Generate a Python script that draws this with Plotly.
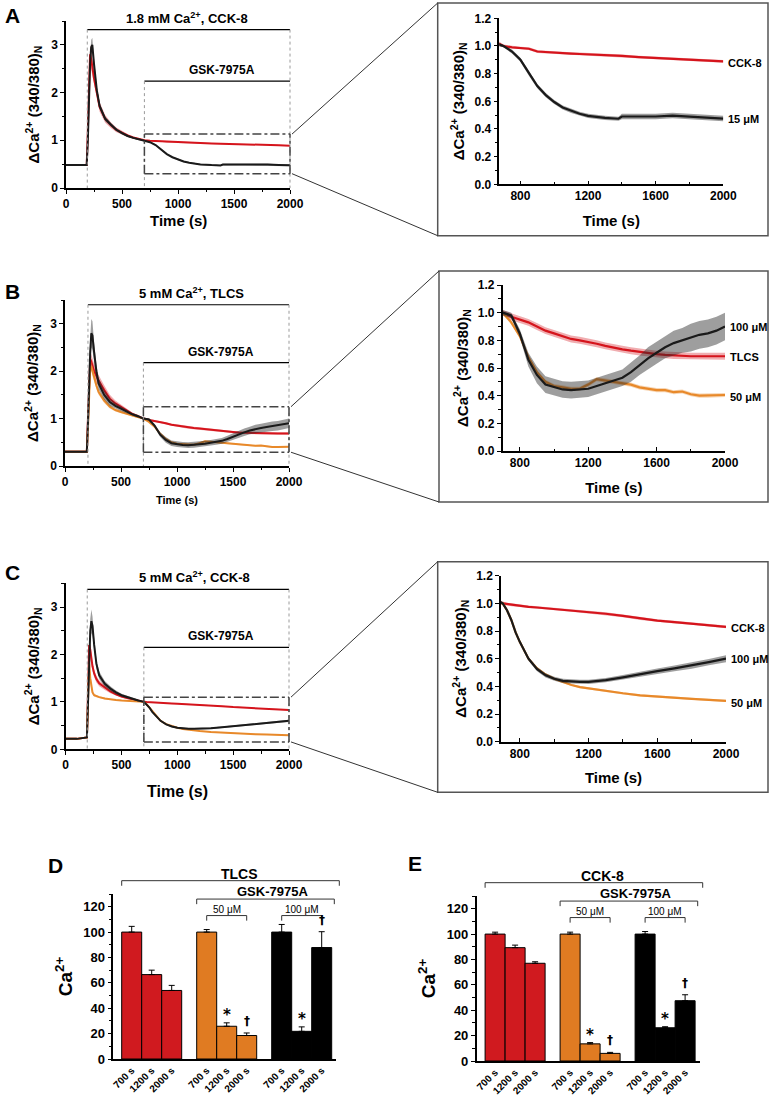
import plotly.graph_objects as go

W, H = 770, 1097
FONT = "Liberation Sans, Arial, sans-serif"
RED, ORANGE, BLACK = "#d5141c", "#e8892a", "#1a1a1a"
RED_BAND, ORANGE_BAND, BLACK_BAND = "rgba(213,20,28,0.35)", "rgba(232,137,42,0.35)", "rgba(40,40,40,0.45)"

# --------------------------
# time courses (normalised 340/380 ratio)
# --------------------------
t_A = [0, 100, 185, 195, 205, 215, 225, 235, 250, 275, 300, 350, 400, 450, 500, 550, 600, 650, 700, 750,
       800, 850, 900, 950, 1000, 1050, 1100, 1150, 1200, 1300, 1380, 1400, 1500, 1600, 1700, 1800, 1900, 2000]
a_cck = [0.48, 0.48, 0.48, 1.2, 2.3, 2.8, 2.7, 2.5, 2.3, 2.0, 1.7, 1.45, 1.32, 1.22, 1.16, 1.1, 1.06, 1.03, 1.0, 0.99,
         0.985, 0.98, 0.96, 0.955, 0.95, 0.948, 0.945, 0.942, 0.94, 0.935, 0.93, 0.928, 0.92, 0.913, 0.907, 0.9, 0.895, 0.888]
a_cck_err = [0.02, 0.02, 0.02, 0.1, 0.2, 0.2, 0.2, 0.18, 0.15, 0.12, 0.1, 0.08, 0.06, 0.05, 0.04, 0.03, 0.02, 0.02, 0.01, 0.01,
             0.01, 0.01, 0.01, 0.01, 0.01, 0.01, 0.01, 0.01, 0.01, 0.01, 0.01, 0.01, 0.01, 0.01, 0.01, 0.01, 0.01, 0.01]
a_15 = [0.48, 0.48, 0.48, 1.0, 2.0, 2.6, 2.95, 3.0, 2.6, 2.05, 1.72, 1.45, 1.33, 1.22, 1.15, 1.09, 1.05, 1.02, 1.0, 0.96,
        0.9, 0.8, 0.71, 0.645, 0.595, 0.555, 0.53, 0.51, 0.495, 0.48, 0.474, 0.49, 0.49, 0.49, 0.497, 0.49, 0.48, 0.475]
a_15_err = [0.02, 0.02, 0.02, 0.1, 0.15, 0.15, 0.15, 0.15, 0.12, 0.08, 0.06, 0.05, 0.04, 0.03, 0.03, 0.02, 0.02, 0.02, 0.01, 0.015,
            0.015, 0.015, 0.015, 0.015, 0.015, 0.015, 0.015, 0.015, 0.015, 0.015, 0.015, 0.02, 0.02, 0.02, 0.02, 0.02, 0.02, 0.02]

t_B = [0, 100, 195, 205, 215, 225, 235, 245, 260, 280, 300, 350, 400, 450, 500, 550, 600, 650, 700, 750,
       800, 850, 900, 950, 1000, 1050, 1100, 1150, 1200, 1250, 1300, 1350, 1400, 1450, 1500, 1550, 1600, 1650, 1700, 1750,
       1800, 1850, 1900, 1950, 2000]
b_tlcs = [0.3, 0.3, 0.3, 1.0, 1.9, 2.25, 2.2, 2.1, 2.0, 1.9, 1.8, 1.6, 1.42, 1.32, 1.25, 1.18, 1.1, 1.05, 1.0, 0.97,
          0.95, 0.93, 0.9, 0.87, 0.85, 0.83, 0.81, 0.8, 0.79, 0.775, 0.76, 0.745, 0.735, 0.725, 0.715, 0.705, 0.7, 0.695, 0.69, 0.685,
          0.685, 0.685, 0.685, 0.685, 0.685]
b_tlcs_err = [0.02, 0.02, 0.02, 0.1, 0.15, 0.15, 0.15, 0.15, 0.15, 0.15, 0.12, 0.1, 0.08, 0.06, 0.05, 0.04, 0.03, 0.03, 0.02, 0.025,
              0.025, 0.025, 0.025, 0.025, 0.025, 0.025, 0.025, 0.025, 0.025, 0.025, 0.025, 0.025, 0.025, 0.025, 0.025, 0.025, 0.025, 0.025, 0.025, 0.025,
              0.025, 0.025, 0.025, 0.025, 0.025]
b_50 = [0.3, 0.3, 0.3, 0.8, 1.6, 2.05, 2.1, 2.0, 1.85, 1.7, 1.56, 1.38, 1.25, 1.18, 1.14, 1.1, 1.06, 1.03, 1.0, 0.93,
        0.83, 0.68, 0.57, 0.5, 0.47, 0.46, 0.45, 0.45, 0.48, 0.52, 0.51, 0.5, 0.49, 0.48, 0.46, 0.45, 0.44, 0.44, 0.425, 0.43,
        0.41, 0.4, 0.4, 0.4, 0.405]
b_50_err = [0.02, 0.02, 0.02, 0.08, 0.1, 0.1, 0.1, 0.1, 0.08, 0.07, 0.06, 0.05, 0.04, 0.03, 0.03, 0.02, 0.02, 0.02, 0.015, 0.015,
            0.015, 0.015, 0.015, 0.015, 0.015, 0.015, 0.015, 0.015, 0.015, 0.015, 0.015, 0.015, 0.015, 0.015, 0.015, 0.015, 0.015, 0.015, 0.015, 0.015,
            0.015, 0.015, 0.015, 0.015, 0.015]
b_100 = [0.3, 0.3, 0.3, 0.9, 1.8, 2.4, 2.8, 2.75, 2.4, 2.0, 1.74, 1.5, 1.35, 1.27, 1.21, 1.15, 1.09, 1.05, 1.0, 0.98,
         0.85, 0.66, 0.55, 0.48, 0.46, 0.445, 0.44, 0.445, 0.45, 0.47, 0.49, 0.51, 0.53, 0.57, 0.62, 0.67, 0.71, 0.75, 0.78, 0.8,
         0.82, 0.84, 0.85, 0.87, 0.9]
b_100_err = [0.02, 0.02, 0.02, 0.15, 0.25, 0.3, 0.3, 0.3, 0.2, 0.15, 0.12, 0.1, 0.08, 0.06, 0.05, 0.04, 0.03, 0.03, 0.02, 0.02,
             0.03, 0.05, 0.06, 0.06, 0.06, 0.06, 0.06, 0.06, 0.06, 0.06, 0.06, 0.06, 0.06, 0.07, 0.07, 0.08, 0.08, 0.08, 0.09, 0.09,
             0.1, 0.1, 0.1, 0.1, 0.1]

t_C = [0, 100, 190, 200, 210, 220, 230, 240, 255, 275, 300, 350, 400, 450, 500, 550, 600, 650, 700, 725,
       750, 775, 800, 850, 900, 950, 1000, 1050, 1100, 1150, 1200, 1300, 1400, 1500, 1600, 1700, 1800, 1900, 2000]
c_cck = [0.22, 0.22, 0.25, 1.2, 2.2, 2.1, 1.9, 1.75, 1.6, 1.48, 1.39, 1.3, 1.22, 1.16, 1.11, 1.08, 1.05, 1.02, 1.0, 0.995,
         0.99, 0.985, 0.98, 0.975, 0.97, 0.965, 0.96, 0.955, 0.95, 0.945, 0.94, 0.925, 0.91, 0.89, 0.875, 0.865, 0.855, 0.845, 0.83]
c_cck_err = [0.01, 0.01, 0.01, 0.1, 0.15, 0.12, 0.1, 0.1, 0.08, 0.07, 0.06, 0.05, 0.04, 0.03, 0.02, 0.02, 0.02, 0.01, 0.01, 0.01,
             0.01, 0.01, 0.01, 0.01, 0.01, 0.01, 0.01, 0.01, 0.01, 0.01, 0.01, 0.01, 0.01, 0.01, 0.01, 0.01, 0.01, 0.01, 0.01]
c_50 = [0.22, 0.22, 0.25, 1.0, 1.8, 1.5, 1.3, 1.2, 1.14, 1.12, 1.1, 1.07, 1.05, 1.04, 1.03, 1.02, 1.01, 1.005, 1.0, 0.95,
        0.88, 0.79, 0.72, 0.6, 0.53, 0.485, 0.455, 0.43, 0.41, 0.395, 0.385, 0.365, 0.35, 0.335, 0.325, 0.318, 0.31, 0.302, 0.295]
c_50_err = [0.01, 0.01, 0.01, 0.05, 0.1, 0.08, 0.05, 0.04, 0.03, 0.03, 0.02, 0.02, 0.01, 0.01, 0.01, 0.01, 0.01, 0.01, 0.008, 0.008,
            0.008, 0.008, 0.008, 0.008, 0.008, 0.008, 0.008, 0.008, 0.008, 0.008, 0.008, 0.008, 0.008, 0.008, 0.008, 0.008, 0.008, 0.008, 0.008]
c_100 = [0.22, 0.22, 0.25, 1.0, 2.0, 2.5, 2.7, 2.6, 2.2, 1.8, 1.56, 1.38, 1.28, 1.2, 1.14, 1.1, 1.06, 1.03, 1.0, 0.95,
         0.88, 0.79, 0.72, 0.6, 0.525, 0.48, 0.455, 0.44, 0.435, 0.432, 0.433, 0.445, 0.465, 0.49, 0.51, 0.53, 0.55, 0.575, 0.6]
c_100_err = [0.01, 0.01, 0.01, 0.1, 0.2, 0.25, 0.25, 0.2, 0.15, 0.1, 0.08, 0.06, 0.05, 0.04, 0.03, 0.03, 0.02, 0.02, 0.01, 0.01,
             0.012, 0.012, 0.012, 0.015, 0.015, 0.015, 0.015, 0.015, 0.015, 0.015, 0.015, 0.015, 0.018, 0.018, 0.02, 0.02, 0.022, 0.022, 0.025]

# --------------------------
# bar summaries (% of 700 s)
# --------------------------
bar_labels = ["700 s", "1200 s", "2000 s"]
d_tlcs, d_tlcs_err = [100, 66.5, 54], [4.5, 3.5, 4]
d_50, d_50_err = [100, 25.8, 18.5], [2, 2.7, 2]
d_100, d_100_err = [100, 21.8, 87.8], [6, 3.5, 12.5]
e_cck, e_cck_err = [100, 89.3, 77], [1.5, 2, 1.2]
e_50, e_50_err = [100, 13.5, 6], [1.5, 1, 0.8]
e_100, e_100_err = [100, 26.2, 47.5], [2, 0.8, 4.7]
sig = [["", "", ""], ["", "*", "†"], ["", "*", "†"]]

# panel frames in pixels: left, right, top, bottom + axis ranges
PANELS = {
    "A1": dict(l=66, r=290, t=21, b=188, xr=(0, 2000), yr=(0, 3.5)),
    "A2": dict(l=499.3, r=723.3, t=18.3, b=184.3, xr=(675, 2000), yr=(0, 1.2)),
    "B1": dict(l=65, r=289, t=300, b=466, xr=(0, 2000), yr=(0, 3.5)),
    "B2": dict(l=502.7, r=725, t=285, b=451, xr=(700, 2000), yr=(0, 1.2)),
    "C1": dict(l=65.7, r=289, t=583.3, b=749.3, xr=(0, 2000), yr=(0, 3.5)),
    "C2": dict(l=501, r=726, t=575.7, b=741.7, xr=(690, 2000), yr=(0, 1.2)),
    "D": dict(l=113.3, r=336.3, t=894, b=1059, xr=(0, 11.15), yr=(0, 130)),
    "E": dict(l=476.7, r=699.7, t=896, b=1061, xr=(0, 11.15), yr=(0, 130)),
}
ORDER = ["A1", "A2", "B1", "B2", "C1", "C2", "D", "E"]


def ax_ids(name):
    n = ORDER.index(name) + 1
    s = "" if n == 1 else str(n)
    return "x" + s, "y" + s, s


def to_paper(name, x, y):
    p = PANELS[name]
    (x0, x1), (y0, y1) = p["xr"], p["yr"]
    px = p["l"] + (x - x0) / (x1 - x0) * (p["r"] - p["l"])
    py = p["b"] - (y - y0) / (y1 - y0) * (p["b"] - p["t"])
    return px / W, 1 - py / H


def pix(px, py):
    return px / W, 1 - py / H


fig = go.Figure()
layout = {}
shapes = []
annotations = []


def add_series(name, t, v, e, color, band, width=2.0):
    xs, ys, _ = ax_ids(name)
    up = [a + b for a, b in zip(v, e)]
    lo = [a - b for a, b in zip(v, e)]
    fig.add_trace(go.Scatter(x=t + t[::-1], y=up + lo[::-1], fill="toself", fillcolor=band,
                             line=dict(width=0), mode="lines", xaxis=xs, yaxis=ys,
                             hoverinfo="skip", showlegend=False))
    fig.add_trace(go.Scatter(x=t, y=v, mode="lines", line=dict(color=color, width=width),
                             xaxis=xs, yaxis=ys, showlegend=False))


def tick_font(size=12):
    return dict(family=FONT, size=size, color="black", weight="bold")


def set_axes(name, xkw, ykw):
    xs, ys, s = ax_ids(name)
    p = PANELS[name]
    base = dict(showline=True, linecolor="black", linewidth=1.5, showgrid=False, zeroline=False,
                ticks="outside", ticklen=4, tickwidth=1.2, tickcolor="black",
                tickfont=tick_font(), automargin=False, fixedrange=True)
    layout["xaxis" + s] = {**base, "domain": [p["l"] / W, p["r"] / W], "range": list(p["xr"]),
                           "anchor": ys, **xkw}
    layout["yaxis" + s] = {**base, "domain": [1 - p["b"] / H, 1 - p["t"] / H], "range": list(p["yr"]),
                           "anchor": xs, **ykw}


def seg(name, x0, y0, x1, y1, **line):
    a = to_paper(name, x0, y0)
    b = to_paper(name, x1, y1)
    shapes.append(dict(type="line", xref="paper", yref="paper", x0=a[0], y0=a[1], x1=b[0], y1=b[1], line=line))


def note(name, x, y, text, size=12, family=FONT, **kw):
    # placed in paper space so that labels above an axis range are still drawn
    px, py = to_paper(name, x, y)
    opts = dict(xanchor="center", yanchor="middle")
    opts.update(kw)
    annotations.append(dict(x=px, y=py, xref="paper", yref="paper", text=text, showarrow=False,
                            font=dict(family=family, size=size, color="black"), **opts))


def pnote(px, py, text, size):
    x, y = pix(px, py)
    annotations.append(dict(x=x, y=y, xref="paper", yref="paper", text=text, showarrow=False,
                            xanchor="center", yanchor="middle",
                            font=dict(family=FONT, size=size, color="black")))


YTITLE = "<b>ΔCa<sup>2+</sup> (340/380)<sub>N</sub></b>"

# ---- time course panels ----
series = {
    "A": [(t_A, a_cck, a_cck_err, RED, RED_BAND), (t_A, a_15, a_15_err, BLACK, BLACK_BAND)],
    "B": [(t_B, b_tlcs, b_tlcs_err, RED, RED_BAND), (t_B, b_50, b_50_err, ORANGE, ORANGE_BAND),
          (t_B, b_100, b_100_err, BLACK, BLACK_BAND)],
    "C": [(t_C, c_cck, c_cck_err, RED, RED_BAND), (t_C, c_50, c_50_err, ORANGE, ORANGE_BAND),
          (t_C, c_100, c_100_err, BLACK, BLACK_BAND)],
}
# stimulus text, x of text, stimulus start, bracket heights, zoom box, right frame (px), time-title (px y, size)
deco = {
    "A": ("1.8 mM Ca<sup>2+</sup>, CCK-8", 1080, 190, 3.32, 2.24, (0.3, 1.13), (437.7, 3, 768, 235.7), (220, 15)),
    "B": ("5 mM Ca<sup>2+</sup>, TLCS", 1130, 205, 3.4, 2.18, (0.29, 1.25), (439, 271, 768, 502), (500, 11)),
    "C": ("5 mM Ca<sup>2+</sup>, CCK-8", 1150, 193, 3.37, 2.15, (0.155, 1.1), (437.7, 561.7, 768, 792.3), (791, 16)),
}
labels = {
    "A": [("CCK-8", 0.88), ("15 μM", 0.47)],
    "B": [("100 μM", 0.9), ("TLCS", 0.68), ("50 μM", 0.39)],
    "C": [("CCK-8", 0.82), ("100 μM", 0.6), ("50 μM", 0.28)],
}

for key in "ABC":
    left, right = key + "1", key + "2"
    for t, v, e, col, band in series[key]:
        add_series(left, t, v, e, col, band, 2.0)
        add_series(right, t, v, e, col, band, 2.2)

    text, tx, t_on, y_top, y_gsk, (b_lo, b_hi), frame, (title_y, title_size) = deco[key]
    set_axes(left,
             dict(tick0=0, dtick=500, minor=dict(dtick=250, ticks="outside", ticklen=2.5, tickcolor="black")),
             dict(tick0=0, dtick=1, minor=dict(dtick=0.5, ticks="outside", ticklen=2.5, tickcolor="black"),
                  title=dict(text=YTITLE, font=dict(family=FONT, size=15, color="black"), standoff=8)))
    p = PANELS[left]
    pnote((p["l"] + p["r"]) / 2, title_y, "<b>Time (s)</b>", title_size)
    set_axes(right,
             dict(tick0=800, dtick=400, ticks="inside", minor=dict(tick0=800, dtick=200, ticks="inside", ticklen=2.5, tickcolor="black"),
                  title=dict(text="<b>Time (s)</b>", font=dict(family=FONT, size=15, color="black"), standoff=13)),
             dict(tick0=0, dtick=0.2, tickformat=".1f", minor=dict(dtick=0.1, ticks="outside", ticklen=2.5, tickcolor="black"),
                  title=dict(text=YTITLE, font=dict(family=FONT, size=15, color="black"), standoff=6)))

    # stimulus brackets
    seg(left, t_on, y_top, 2000, y_top, color="black", width=1.2)
    seg(left, 700, y_gsk, 2000, y_gsk, color="black", width=1.2)
    for xv, yv in [(t_on, y_top), (2000, y_top), (700, y_gsk)]:
        seg(left, xv, yv, xv, 0, color="#9a9a9a", width=1, dash="dot")
    note(left, tx, y_top, "<b>" + text + "</b>", 13, yanchor="bottom", yshift=2)
    note(left, 1390, y_gsk, "<b>GSK-7975A</b>", 12, yanchor="bottom", yshift=2)

    # zoom box and connectors to the enlarged panel
    for (x0, y0, x1, y1) in [(700, b_lo, 2000, b_lo), (700, b_hi, 2000, b_hi), (700, b_lo, 700, b_hi), (2000, b_lo, 2000, b_hi)]:
        seg(left, x0, y0, x1, y1, color="#444444", width=1.5, dash="dashdot")
    fx0, fy0, fx1, fy1 = frame
    shapes.append(dict(type="rect", xref="paper", yref="paper",
                       x0=fx0 / W, x1=fx1 / W, y0=1 - fy1 / H, y1=1 - fy0 / H,
                       line=dict(color="#555555", width=1.5)))
    for yv, fy in [(b_hi, fy0), (b_lo, fy1)]:
        a = to_paper(left, 2000, yv)
        b = pix(fx0, fy)
        shapes.append(dict(type="line", xref="paper", yref="paper", x0=a[0] + 2 / W, y0=a[1], x1=b[0], y1=b[1],
                           line=dict(color="#333333", width=1)))

    for txt, yv in labels[key]:
        note(right, 2000, yv, "<b>" + txt + "</b>", 11, xanchor="left", xshift=3)

# ---- bar panels ----
bar_sets = {
    "D": ("TLCS", [(d_tlcs, d_tlcs_err, "#d01a1f"), (d_50, d_50_err, "#e07b22"), (d_100, d_100_err, "#000000")]),
    "E": ("CCK-8", [(e_cck, e_cck_err, "#d01a1f"), (e_50, e_50_err, "#e07b22"), (e_100, e_100_err, "#000000")]),
}
for name, (stim, groups) in bar_sets.items():
    xs, ys, _ = ax_ids(name)
    tickvals, ticktext = [], []
    for g, (vals, errs, col) in enumerate(groups):
        pos = [0.92 + g * 3.75 + k for k in range(3)]
        tickvals += pos
        ticktext += bar_labels
        fig.add_trace(go.Bar(x=pos, y=vals, width=1, marker=dict(color=col, line=dict(color="black", width=1)),
                             error_y=dict(type="data", array=errs, arrayminus=[0, 0, 0], symmetric=False,
                                          color="black", thickness=1, width=3),
                             xaxis=xs, yaxis=ys, showlegend=False))
        for k in range(3):
            if sig[g][k] == "*":
                note(name, pos[k], vals[k] + errs[k], "<b>*</b>", 15, family="DejaVu Sans", yanchor="bottom", yshift=-3)
            elif sig[g][k]:
                note(name, pos[k], vals[k] + errs[k], "<b>†</b>", 12, family="DejaVu Sans", yanchor="bottom", yshift=3)
    set_axes(name,
             dict(tickvals=tickvals, ticktext=ticktext, tickangle=-45, ticks="", tickfont=tick_font(10)),
             dict(tick0=0, dtick=20, minor=dict(dtick=10, ticks="outside", ticklen=2.5, tickcolor="black"),
                  tickfont=tick_font(13),
                  title=dict(text="<b>Ca<sup>2+</sup></b>", font=dict(family=FONT, size=19, color="black"), standoff=6)))

    # brackets above the bars
    def bracket(x0, x1, y, drop):
        seg(name, x0, y - drop, x0, y, color="#333333", width=1)
        seg(name, x0, y, x1, y, color="#333333", width=1)
        seg(name, x1, y, x1, y - drop, color="#333333", width=1)

    bracket(0.42, 11.3, 140.5, 4)
    bracket(4.17, 11.05, 126, 4)
    bracket(4.67, 6.67, 113, 4)
    bracket(8.42, 10.42, 113, 4)
    note(name, 6.3, 146, "<b>" + stim + "</b>", 14)
    note(name, 7.95, 132, "<b>GSK-7975A</b>", 13)
    note(name, 5.67, 118, "50 μM", 10)
    note(name, 9.42, 118, "100 μM", 10)

# panel letters
for letter, (px, py) in {"A": (12, 16), "B": (12, 291), "C": (12, 572), "D": (55, 865), "E": (415, 863)}.items():
    pnote(px, py, "<b>" + letter + "</b>", 21)

fig.update_layout(
    width=W, height=H, autosize=False,
    margin=dict(l=0, r=0, t=0, b=0),
    paper_bgcolor="white", plot_bgcolor="white",
    font=dict(family=FONT, color="black"),
    showlegend=False, barmode="overlay",
    shapes=shapes, annotations=annotations,
    **layout,
)

fig.write_html("out.html", config={"displayModeBar": False},
               post_script="document.body.style.margin='0';document.body.style.overflow='hidden';")
